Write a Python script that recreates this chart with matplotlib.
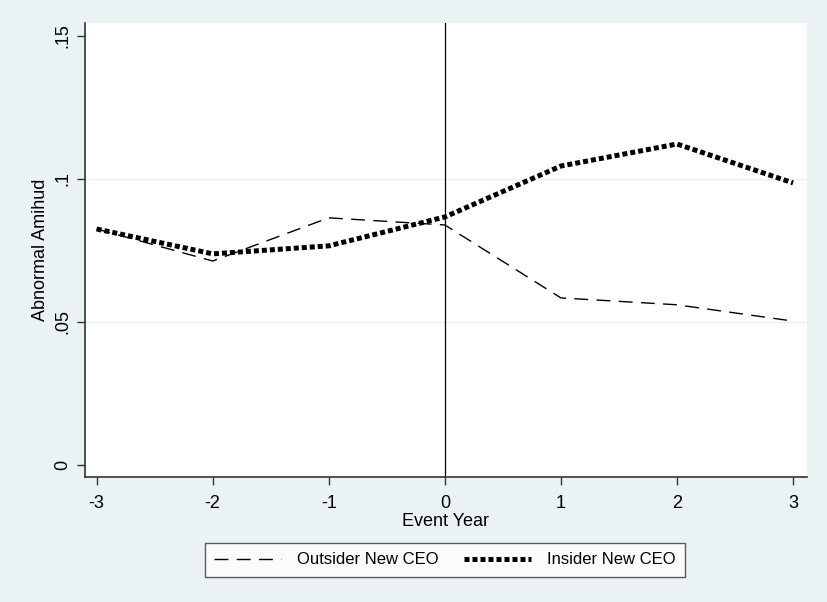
import matplotlib.pyplot as plt

plt.rcParams['font.family'] = ['Liberation Sans', 'DejaVu Sans']

event_year = [-3, -2, -1, 0, 1, 2, 3]
outsider = [0.0825, 0.0713, 0.0864, 0.0839, 0.0584, 0.0560, 0.0503]
insider = [0.0825, 0.0738, 0.0766, 0.0867, 0.1045, 0.1122, 0.0986]

y_ticks = [0, 0.05, 0.1, 0.15]
y_tick_labels = ['0', '.05', '.1', '.15']

bg = '#EAF2F3'

fig = plt.figure(figsize=(8.27, 6.02), dpi=100, facecolor=bg)
ax = fig.add_axes([85 / 827, 1 - 477 / 602, 722 / 827, 454 / 602])
ax.set_facecolor('white')

# faint grid only at the inner ticks
for y in y_ticks[1:3]:
    ax.axhline(y, color=bg, lw=1, zorder=0)
ax.axvline(0, color='black', lw=0.9, zorder=1)

ax.plot(event_year, outsider, color='black', lw=1.0,
        linestyle=(0, (10, 6)), label='Outsider New CEO', zorder=3)
ax.plot(event_year, insider, color='black', lw=3.6,
        linestyle=(0, (1, 0.6)), dash_capstyle='butt',
        label='Insider New CEO', zorder=4)

ax.set_xlim(-3.10, 3.12)
ax.set_ylim(-0.0042, 0.1545)
ax.set_xticks(event_year)
ax.set_xticklabels([str(v) for v in event_year])
ax.set_yticks(y_ticks)
ax.set_yticklabels(y_tick_labels, rotation=90, va='center')
ax.tick_params(labelsize=13, length=6, width=1, color='#333333', pad=4)
ax.tick_params(axis='x', pad=7)

for side in ['top', 'right']:
    ax.spines[side].set_visible(False)
for side in ['left', 'bottom']:
    ax.spines[side].set_color('#333333')
    ax.spines[side].set_linewidth(1.2)

ax.set_xlabel('Event Year', fontsize=13, labelpad=1)
ax.set_ylabel('Abnormal Amihud', fontsize=13, labelpad=4)

leg = fig.legend(loc='center', bbox_to_anchor=(445 / 827, 1 - 560 / 602),
                 ncol=2, fontsize=12, frameon=True, fancybox=False,
                 edgecolor='#333333', handlelength=4.0, columnspacing=1.5,
                 borderpad=0.55, handletextpad=1.0)
leg.get_frame().set_linewidth(1.0)

fig.savefig('out.png', dpi=100, facecolor=bg)
